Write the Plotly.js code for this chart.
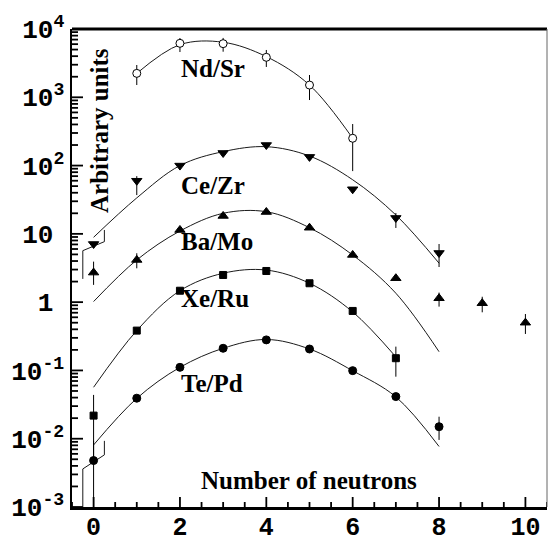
<!DOCTYPE html>
<html>
<head>
<meta charset="utf-8">
<script src="https://cdn.plot.ly/plotly-3.0.1.min.js"></script>
<style>html,body{margin:0;padding:0;background:#fff;}#chart{width:548px;height:541px;}</style>
</head>
<body>
<div id="chart"></div>
<script>
// ---- Data ----
const ndsrX = [1, 2, 3, 4, 5, 6];
const ndsrY = [2240, 6170, 6100, 3850, 1510, 251];
const ndsrHi = [2970, 7380, 7400, 4930, 2120, 406];
const ndsrLo = [1513, 4600, 4650, 2780, 912, 83];
const ndsrFitX = [1, 2, 3, 4, 5, 6];
const ndsrFitY = [2240, 5900, 6400, 3940, 1510, 251];

const cezrX = [0, 1, 2, 3, 4, 5, 6, 7, 8];
const cezrY = [7.1, 60, 100, 153, 200, 134, 45, 17.1, 5.25];
const cezrHi = [7.1, 70, 100, 153, 200, 134, 45, 20.2, 7.1];
const cezrLo = [7.1, 37, 100, 153, 200, 134, 45, 12.2, 3.27];
const cezrFitX = [0, 1, 2, 3, 4, 5, 6, 7, 8];
const cezrFitY = [8.9, 33.6, 100, 160, 189, 138, 62, 18.9, 3.72];
const cezrStepX = [-0.25, -0.25, 0.25, 0.25];
const cezrStepY = [2.19, 5.67, 7.69, 11.4];

const bamoX = [0, 1, 2, 3, 4, 5, 6, 7, 8, 9, 10];
const bamoY = [2.71, 4.15, 11.4, 18.3, 20.9, 12.3, 4.91, 2.24, 1.14, 0.964, 0.50];
const bamoHi = [3.92, 5.2, 11.4, 18.3, 20.9, 12.3, 4.91, 2.24, 1.38, 1.2, 0.67];
const bamoLo = [1.79, 3.13, 11.4, 18.3, 20.9, 12.3, 4.91, 2.24, 0.86, 0.71, 0.342];
const bamoFitX = [0, 1, 2, 3, 4, 5, 6, 7, 8];
const bamoFitY = [1.02, 4.15, 11, 20, 21.1, 12.3, 4.9, 1.35, 0.188];

const xeruX = [0, 1, 2, 3, 4, 5, 6, 7];
const xeruY = [0.0218, 0.383, 1.47, 2.5, 2.86, 1.89, 0.743, 0.151];
const xeruHi = [0.0438, 0.383, 1.47, 2.5, 2.86, 1.89, 0.743, 0.223];
const xeruLo = [0.005, 0.383, 1.47, 2.5, 2.86, 1.89, 0.743, 0.081];
const xeruFitX = [0, 1, 2, 3, 4, 5, 6, 7];
const xeruFitY = [0.0567, 0.383, 1.47, 2.65, 2.95, 1.89, 0.72, 0.158];

const tepdX = [0, 1, 2, 3, 4, 5, 6, 7, 8];
const tepdY = [0.00479, 0.0392, 0.111, 0.211, 0.28, 0.206, 0.0993, 0.0414, 0.0150];
const tepdHi = [0.0093, 0.0392, 0.111, 0.211, 0.28, 0.206, 0.0993, 0.0414, 0.021];
const tepdLo = [0.0002, 0.0392, 0.111, 0.211, 0.28, 0.206, 0.0993, 0.0414, 0.0096];
const tepdFitX = [0, 1, 2, 3, 4, 5, 6, 7, 8];
const tepdFitY = [0.0081, 0.039, 0.111, 0.211, 0.284, 0.206, 0.099, 0.041, 0.0077];
const tepdStepX = [-0.25, -0.25, 0.25, 0.25];
const tepdStepY = [0.0001, 0.00361, 0.0058, 0.0093];

const xTickVals = [0, 2, 4, 6, 8, 10];
const xTickText = ['0', '2', '4', '6', '8', '10'];
const xMinorVals = [-0.5, 0.5, 1, 1.5, 2.5, 3, 3.5, 4.5, 5, 5.5, 6.5, 7, 7.5, 8.5, 9, 9.5, 10.5];
const yTickVals = [1e-3, 1e-2, 1e-1, 1, 10, 1e2, 1e3, 1e4];
const invis = "<sup><span style='color:rgba(0,0,0,0)'>0</span></sup>";
const yTickText = ['10<sup>-3</sup>', '10<sup>-2</sup>', '10<sup>-1</sup>', '1' + invis, '10' + invis,
  '10<sup>2</sup>', '10<sup>3</sup>', '10<sup>4</sup>'];
const yMinorMantissa = [2, 3, 4, 5, 6, 7, 8, 9];
const seriesLabels = ['Nd/Sr', 'Ce/Zr', 'Ba/Mo', 'Xe/Ru', 'Te/Pd'];

const X_RANGE = [-0.5, 10.5];
const Y_LOG_RANGE = [-3, 4];
const PLOT_W = 548 - 72 - 1, PLOT_H = 541 - 29 - 34;

// ---- helpers ----
function errPlus(y, hi) { return y.map((v, i) => hi[i] - v); }
function errMinus(y, lo) { return y.map((v, i) => v - lo[i]); }
function fitTrace(x, y, shape) {
  return { x: x, y: y, mode: 'lines', type: 'scatter', hoverinfo: 'skip',
    line: { color: '#1a1a1a', width: 1, shape: shape || 'spline', smoothing: 1 }, showlegend: false };
}
function dataTrace(x, y, hi, lo, symbol, size, fill) {
  return { x: x, y: y, mode: 'markers', type: 'scatter', showlegend: false,
    marker: { symbol: symbol, size: size, color: fill, line: { color: '#000', width: 1 } },
    error_y: { type: 'data', symmetric: false, array: errPlus(y, hi), arrayminus: errMinus(y, lo),
      width: 0, thickness: 1, color: '#000' } };
}

// axis tick marks pointing inward, built as one line trace (pixel lengths converted through the axis scales)
const tickX = [], tickY = [];
const xPerPx = (X_RANGE[1] - X_RANGE[0]) / PLOT_W;
const decPerPx = (Y_LOG_RANGE[1] - Y_LOG_RANGE[0]) / PLOT_H;
const yBottom = Math.pow(10, Y_LOG_RANGE[0]);
function addXTick(v, len) { tickX.push(v, v, null); tickY.push(yBottom, yBottom * Math.pow(10, len * decPerPx), null); }
function addYTick(v, len) { tickX.push(X_RANGE[0], X_RANGE[0] + len * xPerPx, null); tickY.push(v, v, null); }
xTickVals.forEach(v => addXTick(v, 10));
xMinorVals.forEach(v => addXTick(v, 5));
yTickVals.forEach(v => addYTick(v, 11));
for (let e = Y_LOG_RANGE[0]; e < Y_LOG_RANGE[1]; e++) yMinorMantissa.forEach(m => addYTick(m * Math.pow(10, e), 6));

const traces = [
  { x: tickX, y: tickY, mode: 'lines', type: 'scatter', hoverinfo: 'skip', showlegend: false,
    connectgaps: false, cliponaxis: false, line: { color: '#000', width: 1.8 } },
  fitTrace(ndsrFitX, ndsrFitY),
  fitTrace(cezrFitX, cezrFitY),
  fitTrace(cezrStepX, cezrStepY, 'linear'),
  fitTrace(bamoFitX, bamoFitY),
  fitTrace(xeruFitX, xeruFitY),
  fitTrace(tepdFitX, tepdFitY),
  fitTrace(tepdStepX, tepdStepY, 'linear'),
  dataTrace(ndsrX, ndsrY, ndsrHi, ndsrLo, 'circle', 8, '#fff'),
  dataTrace(cezrX, cezrY, cezrHi, cezrLo, 'triangle-down', 9, '#000'),
  dataTrace(bamoX, bamoY, bamoHi, bamoLo, 'triangle-up', 9, '#000'),
  dataTrace(xeruX, xeruY, xeruHi, xeruLo, 'square', 7, '#000'),
  dataTrace(tepdX, tepdY, tepdHi, tepdLo, 'circle', 8, '#000')
];

const labelFont = { family: 'Liberation Serif', size: 25, color: '#000', weight: 'bold' };
const labelY = [0.918, 0.6736, 0.555, 0.436, 0.2594];
const annotations = seriesLabels.map((t, i) => ({
  text: '<b>' + t + '</b>', xref: 'paper', yref: 'paper', x: 0.226, y: labelY[i],
  xanchor: 'left', yanchor: 'middle', showarrow: false, font: labelFont
}));
annotations.push({ text: '<b>Number of neutrons</b>', xref: 'paper', yref: 'paper', x: 0.268, y: 0.0544,
  xanchor: 'left', yanchor: 'middle', showarrow: false, font: labelFont });
annotations.push({ text: '<b>Arbitrary units</b>', xref: 'paper', yref: 'paper', x: 0.0568, y: 0.7887,
  xanchor: 'center', yanchor: 'middle', textangle: -90, showarrow: false,
  font: { family: 'Liberation Serif', size: 25, color: '#000', weight: 'bold' } });

const shapes = [
  { type: 'line', xref: 'paper', yref: 'paper', x0: 0, x1: 1, y0: 1, y1: 1, line: { color: '#000', width: 3 } },
  { type: 'line', xref: 'paper', yref: 'paper', x0: 1, x1: 1, y0: 0, y1: 1, line: { color: '#666', width: 1 } }
];

const xTickFont = { family: 'Liberation Mono', size: 25, color: '#000', weight: 'bold' };
const yTickFont = { family: 'Liberation Mono', size: 26, color: '#000', weight: 'bold' };

const layout = {
  width: 548, height: 541,
  margin: { l: 72, r: 1, t: 29, b: 34 },
  paper_bgcolor: '#fff', plot_bgcolor: '#fff',
  showlegend: false,
  xaxis: {
    range: X_RANGE, tickmode: 'array', tickvals: xTickVals, ticktext: xTickText, ticks: '',
    showline: true, linewidth: 2.5, linecolor: '#000', mirror: false,
    showgrid: false, zeroline: false, tickfont: xTickFont, ticklabelstandoff: -5
  },
  yaxis: {
    type: 'log', range: Y_LOG_RANGE, tickmode: 'array', tickvals: yTickVals, ticktext: yTickText, ticks: '',
    showline: true, linewidth: 2.5, linecolor: '#000', mirror: false,
    showgrid: false, zeroline: false, tickfont: yTickFont, ticklabelstandoff: 0
  },
  shapes: shapes,
  annotations: annotations
};

Plotly.newPlot('chart', traces, layout, { staticPlot: true, displayModeBar: false });
</script>
</body>
</html>
